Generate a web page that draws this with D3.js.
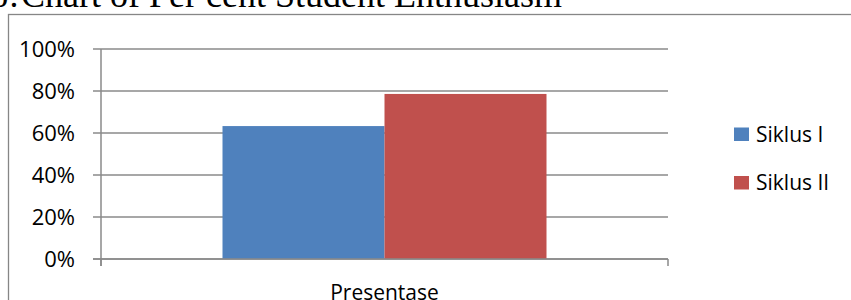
<!DOCTYPE html>
<html>
<head>
<meta charset="utf-8">
<script src="https://cdn.jsdelivr.net/npm/d3@7"></script>
<style>
  html, body { margin: 0; padding: 0; background: #fff; overflow: hidden; }
  svg { display: block; }
  .lbl { font-family: "Open Sans", sans-serif; font-size: 21px; fill: #000; }
</style>
</head>
<body>
<div id="chart"></div>
<script>
// Chart constants
const WIDTH = 851;
const HEIGHT = 300;

// Data
const categories = ["Presentase"];
const seriesNames = ["Siklus I", "Siklus II"];
const seriesValues = [0.633, 0.786];
const seriesColors = ["#4F81BD", "#C0504D"];
const yTicks = [0, 0.2, 0.4, 0.6, 0.8, 1.0];
const titleParts = ["6", ":", "Chart of Per cent Student Enthusiasm"];

const svg = d3.select("#chart")
  .append("svg")
  .attr("width", WIDTH)
  .attr("height", HEIGHT);

// Caption above the chart box (cut off by the top edge)
const title = svg.append("text")
  .attr("y", 7)
  .attr("font-family", "'Liberation Serif', 'Times New Roman', serif")
  .attr("font-size", "36px")
  .attr("fill", "#000");
title.selectAll("tspan")
  .data(titleParts)
  .join("tspan")
  .attr("x", (d, i) => [-10, 9, 21][i])
  .text(d => d);

// Chart area border
svg.append("rect")
  .attr("x", 8.5)
  .attr("y", 14.5)
  .attr("width", 900)
  .attr("height", 400)
  .attr("fill", "none")
  .attr("stroke", "#868686")
  .attr("stroke-width", 1.3);

// Scales
const x0 = d3.scaleBand()
  .domain(categories)
  .range([101, 668])
  .paddingInner(0)
  .paddingOuter(0.375);

const x1 = d3.scaleBand()
  .domain(seriesNames)
  .range([0, x0.bandwidth()]);

const y = d3.scaleLinear().domain([0, 1]).range([259, 49]);

const gridColor = "#8a8a8a";

// Gridlines (with the short outside ticks on the left)
svg.append("g")
  .selectAll("line")
  .data(yTicks)
  .join("line")
  .attr("x1", 93)
  .attr("x2", 668)
  .attr("y1", d => y(d))
  .attr("y2", d => y(d))
  .attr("stroke", gridColor)
  .attr("stroke-width", 1.5);

// Y axis labels
const yAxis = d3.axisLeft(y)
  .tickValues(yTicks)
  .tickFormat(d3.format(".0%"))
  .tickSize(0)
  .tickPadding(26);

const yg = svg.append("g")
  .attr("transform", "translate(101,0)")
  .call(yAxis);
yg.select(".domain").remove();
yg.selectAll("text")
  .attr("class", "lbl")
  .attr("font-family", null)
  .attr("font-size", null)
  .style("font-size", "22px")
  .attr("dy", "0.35em");

// Bars
svg.append("g")
  .selectAll("rect")
  .data(seriesNames.map((s, i) => ({ name: s, value: seriesValues[i], color: seriesColors[i] })))
  .join("rect")
  .attr("x", d => x0(categories[0]) + x1(d.name))
  .attr("y", d => y(d.value))
  .attr("width", x1.bandwidth())
  .attr("height", d => y(0) - y(d.value))
  .attr("fill", d => d.color);

// Axis lines drawn on top
svg.append("line")
  .attr("x1", 101).attr("x2", 101)
  .attr("y1", y(1)).attr("y2", y(0) + 7)
  .attr("stroke", gridColor).attr("stroke-width", 1.5);

svg.append("line")
  .attr("x1", 93).attr("x2", 668)
  .attr("y1", y(0)).attr("y2", y(0))
  .attr("stroke", gridColor).attr("stroke-width", 1.5);

// X axis category ticks at band edges
svg.append("g")
  .selectAll("line")
  .data([101, 668])
  .join("line")
  .attr("x1", d => d).attr("x2", d => d)
  .attr("y1", y(0)).attr("y2", y(0) + 7)
  .attr("stroke", gridColor).attr("stroke-width", 1.5);

// X category label
svg.append("g")
  .selectAll("text")
  .data(categories)
  .join("text")
  .attr("class", "lbl")
  .attr("x", d => x0(d) + x0.bandwidth() / 2)
  .attr("y", 300)
  .attr("text-anchor", "middle")
  .text(d => d);

// Legend
const legend = svg.append("g")
  .attr("transform", "translate(734,127.5)");

const item = legend.selectAll("g")
  .data(seriesNames)
  .join("g")
  .attr("transform", (d, i) => `translate(0,${i * 48.5})`);

item.append("rect")
  .attr("width", 15)
  .attr("height", 13.5)
  .attr("fill", (d, i) => seriesColors[i]);

item.append("text")
  .attr("class", "lbl")
  .attr("x", 22)
  .attr("y", 14.2)
  .text(d => d);
</script>
</body>
</html>
